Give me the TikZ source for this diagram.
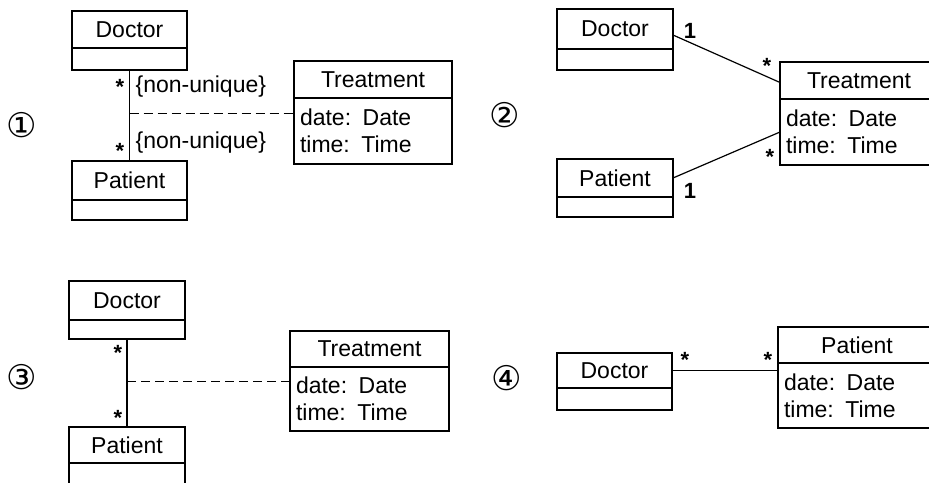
\documentclass[tikz,border=0pt]{standalone}
\usepackage{fontspec}
\setmainfont{Liberation Sans}
\newfontfamily\circfont{DejaVu Sans}
\usetikzlibrary{positioning,calc}

\begin{document}
\begin{tikzpicture}[x=1pt, y=-1pt, line width=1.2pt,
  font=\fontsize{23}{27}\selectfont,
  cls/.style={draw, inner sep=0pt, outer sep=0pt},
  attrbox/.style={draw, inner xsep=6pt, inner ysep=0pt, outer sep=0pt, align=left},
  mult/.style={font=\bfseries\fontsize{22}{24}\selectfont, inner sep=0pt},
  constr/.style={anchor=west, inner sep=2pt},
  circnum/.style={font=\circfont\fontsize{34}{36}\selectfont, inner sep=0pt},
  dashline/.style={dash pattern=on 9pt off 5pt}]
  \useasboundingbox (0,0) rectangle (929,482);

  % 1
  \node[circnum] (n1) at (22,125) {①};
  \node[cls, minimum width=115pt, minimum height=37pt] (d1) at (129.5,29.5) {Doctor};
  \node[cls, minimum width=115pt, minimum height=22pt, below=0pt of d1] (d1a) {};
  \node[cls, minimum width=115pt, minimum height=39pt] (p1) at (129.5,180.5) {Patient};
  \node[cls, minimum width=115pt, minimum height=20pt, below=0pt of p1] (p1a) {};
  \node[cls, minimum width=158pt, minimum height=37pt] (t1) at (373,79.5) {Treatment};
  \node[attrbox, text width=146pt, minimum height=66pt, below=0pt of t1] (t1a) {date: Date\\time: Time};
  \draw (d1a) -- (p1);
  \coordinate (m1) at ($(d1a.south)!0.48!(p1.north)$);
  \draw[dashline] (m1) -- (m1 -| t1a.west);
  \node[mult] (s1a) at (120,87) {*};
  \node[mult] (s1b) at (120,151) {*};
  \node[constr] (u1a) at (133,87) {\{non-unique\}};
  \node[constr] (u1b) at (133,143) {\{non-unique\}};

  % 2
  \node[circnum] (n2) at (505,115) {②};
  \node[cls, minimum width=116pt, minimum height=40pt] (d2) at (615,29) {Doctor};
  \node[cls, minimum width=116pt, minimum height=21pt, below=0pt of d2] (d2a) {};
  \node[cls, minimum width=116pt, minimum height=38pt] (p2) at (615,178) {Patient};
  \node[cls, minimum width=116pt, minimum height=20pt, below=0pt of p2] (p2a) {};
  \node[cls, minimum width=158pt, minimum height=37pt] (t2) at (859,80.5) {Treatment};
  \node[attrbox, text width=146pt, minimum height=66pt, below=0pt of t2] (t2a) {date: Date\\time: Time};
  \draw ([yshift=-6pt]d2.east) -- ([yshift=-2pt]t2.west);
  \draw (p2.east) -- (t2a.west);
  \node[mult] (o2a) at (690,31) {1};
  \node[mult] (o2b) at (690,191) {1};
  \node[mult] (s2a) at (767,66) {*};
  \node[mult] (s2b) at (770,157) {*};

  % 3
  \node[circnum] (n3) at (22,377) {③};
  \node[cls, minimum width=116pt, minimum height=39pt] (d3) at (127,300.5) {Doctor};
  \node[cls, minimum width=116pt, minimum height=19pt, below=0pt of d3] (d3a) {};
  \node[cls, minimum width=116pt, minimum height=36pt] (p3) at (127,445) {Patient};
  \node[cls, minimum width=116pt, minimum height=22pt, below=0pt of p3] (p3a) {};
  \node[cls, minimum width=159pt, minimum height=36pt] (t3) at (369.5,349) {Treatment};
  \node[attrbox, text width=147pt, minimum height=64pt, below=0pt of t3] (t3a) {date: Date\\time: Time};
  \draw (d3a) -- (p3);
  \coordinate (m3) at ($(d3a.south)!0.48!(p3.north)$);
  \draw[dashline] (m3) -- (m3 -| t3a.west);
  \node[mult] (s3a) at (118,353) {*};
  \node[mult] (s3b) at (118,418) {*};

  % 4
  \node[circnum] (n4) at (507,378) {④};
  \node[cls, minimum width=115pt, minimum height=35pt] (d4) at (614.5,370.5) {Doctor};
  \node[cls, minimum width=115pt, minimum height=22pt, below=0pt of d4] (d4a) {};
  \node[cls, minimum width=158pt, minimum height=36pt] (t4) at (857,345) {Patient};
  \node[attrbox, text width=146pt, minimum height=65pt, below=0pt of t4] (t4a) {date: Date\\time: Time};
  \draw (d4.east) -- (d4.east -| t4a.west);
  \node[mult] (s4a) at (685,360) {*};
  \node[mult] (s4b) at (768,360) {*};
\end{tikzpicture}
\end{document}
